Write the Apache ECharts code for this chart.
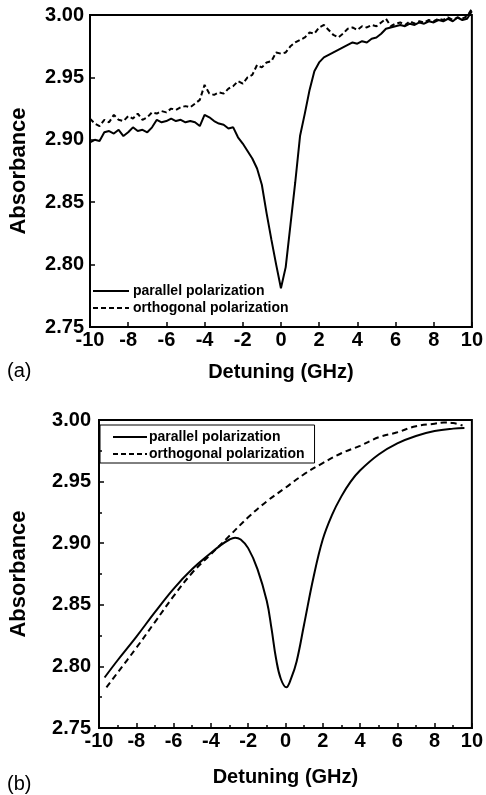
<!DOCTYPE html>
<html>
<head>
<meta charset="utf-8">
<script src="https://cdn.jsdelivr.net/npm/echarts@6/dist/echarts.min.js"></script>
<style>
html,body{margin:0;padding:0;background:#fff;}
#chart{width:486px;height:795px;}
</style>
</head>
<body>
<div id="chart"></div>
<script>
// ---------- Panel (a): measured spectra ----------
const detuningA = [-10,-9.75,-9.5,-9.25,-9,-8.75,-8.5,-8.25,-8,-7.75,-7.5,-7.25,-7,-6.75,-6.5,-6.25,-6,-5.75,-5.5,-5.25,-5,-4.75,-4.5,-4.25,-4,-3.75,-3.5,-3.25,-3,-2.75,-2.5,-2.25,-2,-1.75,-1.5,-1.25,-1,-0.75,-0.5,-0.25,0,0.25,0.5,0.75,1,1.25,1.5,1.75,2,2.25,2.5,2.75,3,3.25,3.5,3.75,4,4.25,4.5,4.75,5,5.25,5.5,5.75,6,6.25,6.5,6.75,7,7.25,7.5,7.75,8,8.25,8.5,8.75,9,9.25,9.5,9.75,10];
const parallelA = [2.898,2.900,2.899,2.906,2.907,2.905,2.908,2.903,2.906,2.910,2.907,2.908,2.906,2.910,2.916,2.914,2.915,2.917,2.915,2.916,2.914,2.915,2.914,2.911,2.920,2.918,2.915,2.913,2.912,2.909,2.910,2.902,2.897,2.891,2.885,2.877,2.864,2.841,2.820,2.800,2.781,2.798,2.832,2.866,2.903,2.921,2.940,2.955,2.962,2.966,2.968,2.970,2.972,2.974,2.976,2.978,2.977,2.979,2.978,2.981,2.982,2.985,2.989,2.990,2.991,2.992,2.991,2.993,2.992,2.994,2.993,2.995,2.994,2.996,2.995,2.997,2.995,2.998,2.996,2.997,3.003];
const orthogonalA = [2.917,2.913,2.911,2.916,2.914,2.920,2.916,2.915,2.919,2.917,2.921,2.916,2.918,2.922,2.921,2.923,2.922,2.925,2.924,2.926,2.927,2.926,2.929,2.932,2.944,2.937,2.936,2.938,2.937,2.941,2.943,2.947,2.945,2.950,2.952,2.960,2.958,2.962,2.963,2.970,2.969,2.970,2.975,2.978,2.980,2.982,2.986,2.985,2.990,2.992,2.988,2.984,2.982,2.985,2.989,2.990,2.988,2.991,2.990,2.992,2.991,2.994,2.997,2.991,2.993,2.994,2.992,2.995,2.993,2.995,2.994,2.996,2.995,2.997,2.996,2.998,2.996,2.998,2.997,2.999,3.005];

// ---------- Panel (b): calculated spectra ----------
const detuningParB = [-9.7,-9,-8,-7,-6,-5,-4,-3.5,-3,-2.7,-2.4,-2,-1.5,-1,-0.75,-0.5,-0.25,0.05,0.3,0.6,1,1.5,2,2.5,3,3.5,4,5,6,7,8,9,9.6];
const parallelB = [2.791,2.805,2.824,2.844,2.863,2.879,2.892,2.898,2.903,2.9045,2.903,2.896,2.879,2.853,2.831,2.806,2.790,2.783,2.790,2.804,2.834,2.872,2.903,2.923,2.938,2.950,2.959,2.972,2.981,2.987,2.991,2.993,2.9935];
const detuningOrtB = [-9.6,-9,-8,-7,-6,-5,-4,-3,-2,-1,0,1,2,3,4,5,6,7,8,8.5,9,9.5];
const orthogonalB = [2.783,2.795,2.815,2.836,2.857,2.876,2.891,2.906,2.921,2.934,2.945,2.956,2.965,2.973,2.979,2.986,2.990,2.995,2.997,2.998,2.9975,2.9955];

const xTicks = [-10,-8,-6,-4,-2,0,2,4,6,8,10];
const yTicks = [2.75,2.80,2.85,2.90,2.95,3.00];
const nameParallel = 'parallel polarization';
const nameOrthogonal = 'orthogonal polarization';

const FONT = '"Liberation Sans", Arial, Helvetica, sans-serif';
const zip = (xs, ys) => xs.map((x, i) => [x, ys[i]]);

function xAxisCfg(gridIndex, nameGap, minor) {
  return {
    gridIndex, type: 'value', min: -10, max: 10, interval: 2,
    name: 'Detuning (GHz)', nameLocation: 'middle', nameGap,
    nameTextStyle: {fontFamily: FONT, fontSize: 20, fontWeight: 'bold', color: '#000'},
    axisLine: {show: true, onZero: false, lineStyle: {color: '#000', width: 2}},
    axisTick: {show: true, inside: true, length: 5, lineStyle: {color: '#000', width: 1.5}},
    minorTick: {show: minor, splitNumber: 2, length: 3, lineStyle: {color: '#000', width: 1.5}},
    splitLine: {show: false},
    axisLabel: {margin: 3, fontFamily: FONT, fontSize: 20, fontWeight: 'bold', color: '#000',
      formatter: v => xTicks.includes(v) ? String(v) : ''}
  };
}
function yAxisCfg(gridIndex, nameGap, margin, minor) {
  return {
    gridIndex, type: 'value', min: 2.75, max: 3.00, interval: 0.05,
    name: 'Absorbance', nameLocation: 'middle', nameGap, nameRotate: 90,
    nameTextStyle: {fontFamily: FONT, fontSize: 22, fontWeight: 'bold', color: '#000'},
    axisLine: {show: true, onZero: false, lineStyle: {color: '#000', width: 2}},
    axisTick: {show: true, inside: true, length: 5, lineStyle: {color: '#000', width: 1.5}},
    minorTick: {show: minor, splitNumber: 2, length: 3, lineStyle: {color: '#000', width: 1.5}},
    splitLine: {show: false},
    axisLabel: {margin, fontFamily: FONT, fontSize: 20, fontWeight: 'bold', color: '#000',
      formatter: v => v.toFixed(2)}
  };
}

const chart = echarts.init(document.getElementById('chart'), null, {renderer: 'canvas'});
chart.setOption({
  backgroundColor: '#fff',
  animation: false,
  grid: [
    {left: 87, top: 15, width: 387, height: 312, show: true, borderColor: '#000', borderWidth: 2, backgroundColor: 'transparent'},
    {left: 95, top: 420, width: 380, height: 308, show: true, borderColor: '#000', borderWidth: 2, backgroundColor: 'transparent'}
  ],
  xAxis: [xAxisCfg(0, 35, false), xAxisCfg(1, 39, true)],
  yAxis: [yAxisCfg(0, 60, 6, false), yAxisCfg(1, 69, 8, true)],
  legend: [
    {
      orient: 'vertical', left: 92, top: 284, padding: 0, itemGap: 3,
      itemWidth: 36, itemHeight: 14,
      itemStyle: {opacity: 0},
      data: [nameParallel, nameOrthogonal],
      textStyle: {fontFamily: FONT, fontSize: 14, fontWeight: 'bold', color: '#000', padding: [0,0,0,-1]},
      selectedMode: false
    },
    {
      orient: 'vertical', left: 100, top: 425, padding: [5, 10, 2, 12], itemGap: 3,
      itemWidth: 34, itemHeight: 14,
      itemStyle: {opacity: 0},
      borderColor: '#000', borderWidth: 1,
      data: [nameParallel, nameOrthogonal],
      textStyle: {fontFamily: FONT, fontSize: 14, fontWeight: 'bold', color: '#000', padding: [0,0,0,-3]},
      selectedMode: false
    }
  ],
  graphic: [
    {type: 'text', left: 7, top: 361, style: {text: '(a)', font: '20px ' + FONT, fill: '#000'}},
    {type: 'text', left: 7, top: 774, style: {text: '(b)', font: '20px ' + FONT, fill: '#000'}}
  ],
  series: [
    {name: nameParallel, type: 'line', xAxisIndex: 0, yAxisIndex: 0, data: zip(detuningA, parallelA),
      symbol: 'none', clip: false, lineStyle: {color: '#000', width: 2}, itemStyle: {color: '#000'}},
    {name: nameOrthogonal, type: 'line', xAxisIndex: 0, yAxisIndex: 0, data: zip(detuningA, orthogonalA),
      symbol: 'none', clip: false, lineStyle: {color: '#000', width: 2, type: [5, 3]}, itemStyle: {color: '#000'}},
    {name: nameParallel, type: 'line', xAxisIndex: 1, yAxisIndex: 1, data: zip(detuningParB, parallelB),
      symbol: 'none', smooth: 0.4, lineStyle: {color: '#000', width: 2}, itemStyle: {color: '#000'}},
    {name: nameOrthogonal, type: 'line', xAxisIndex: 1, yAxisIndex: 1, data: zip(detuningOrtB, orthogonalB),
      symbol: 'none', smooth: 0.4, lineStyle: {color: '#000', width: 2, type: [6, 4]}, itemStyle: {color: '#000'}}
  ]
});
</script>
</body>
</html>
